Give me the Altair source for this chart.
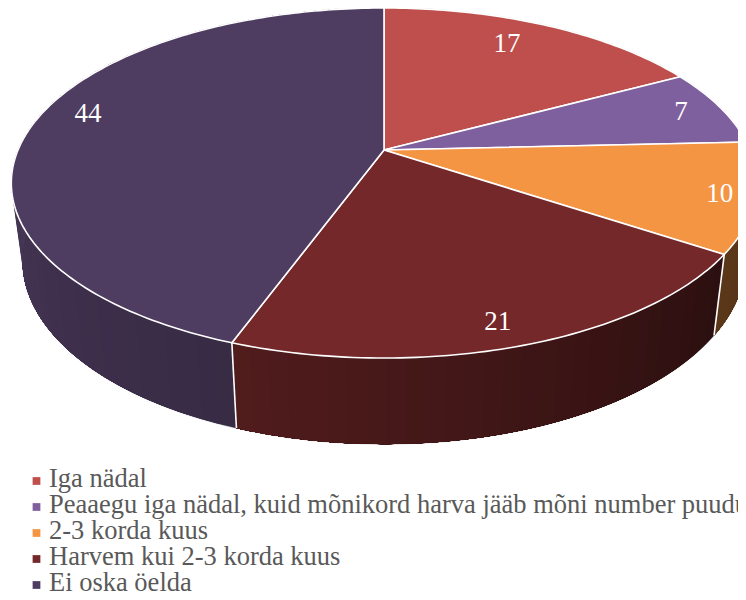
import math
import altair as alt

# ---- data ----
categories = ["Iga nädal",
              "Peaaegu iga nädal, kuid mõnikord harva jääb mõni number puudu",
              "2-3 korda kuus",
              "Harvem kui 2-3 korda kuus",
              "Ei oska öelda"]
values = [17, 7, 10, 21, 44]
colors = ["#BE4F4C", "#7F609E", "#F49544", "#742829", "#4F3D61"]
label_radius = [0.807, 0.879, 0.909, 0.893, 0.871]
label_turn = [-2.7, 0.0, 0.3, 1.2, 4.7]
shade_angles = [90, 123, 200, 270, 360]
shade_factors = [0.34, 0.37, 0.70, 0.90, 0.90]
legend_baselines = [487, 513, 539, 565, 591]

# ---- 3-D projection of the pie (screen pixels) ----
CX, TOP_Y, TOP_A, TOP_B = 384.0, 150.0, 366.0, 168.8
BASE_Y, BASE_A, BASE_B = 226.0, 355.0, 177.0
K = 0.1886
OFFSET = 8


def project(theta_deg, r=1.0, base=False):
    t = math.radians(theta_deg)
    X, Y = r * math.sin(t), r * math.cos(t)
    w = 1 + K * Y
    a, b, y0 = (BASE_A, BASE_B, BASE_Y) if base else (TOP_A, TOP_B, TOP_Y)
    return [CX + a * X / w, y0 - b * Y / w]


def shade(hex_color, f):
    rgb = [int(hex_color[i:i + 2], 16) for i in (1, 3, 5)]
    return "#" + "".join(f"{min(255, round(c * f)):02x}" for c in rgb)


def shade_factor(theta):
    for i in range(len(shade_angles) - 1):
        a0, a1 = shade_angles[i], shade_angles[i + 1]
        if a0 <= theta <= a1:
            return shade_factors[i] + (theta - a0) / (a1 - a0) * (shade_factors[i + 1] - shade_factors[i])
    return shade_factors[0] if theta < shade_angles[0] else shade_factors[-1]


def arange(a, b, step=1.0):
    n = max(2, int(abs(b - a) / step) + 1)
    return [a + (b - a) * i / (n - 1) for i in range(n)]


total = sum(values)
edges = [0.0]
for v in values:
    edges.append(edges[-1] + v / total * 360)


def feature(geom_type, coords, **props):
    return {"type": "Feature", "properties": props,
            "geometry": {"type": geom_type, "coordinates": coords}}


walls, tops, labels = [], [], []
for i, cat in enumerate(categories):
    a0, a1 = edges[i], edges[i + 1]
    # wall: painter's order, every band reaches to the end of its slice
    ang = arange(a0, a1, 2.5)
    for s, e in zip(ang[:-1], ang[1:]):
        if e < 85:
            continue
        mid = (s + e) / 2
        run = arange(s, a1, 1.0)
        poly = [project(a) for a in run] + [project(a, base=True) for a in reversed(run)]
        poly.append(poly[0])
        walls.append(feature("Polygon", [poly], fill=shade(colors[i], shade_factor(mid)), order=len(walls)))
    # top face
    ring = [[CX, TOP_Y]] + [project(a) for a in arange(a0, a1, 1.0)] + [[CX, TOP_Y]]
    tops.append(feature("Polygon", [ring], fill=colors[i]))
    # label
    pos = project((a0 + a1) / 2 + label_turn[i], label_radius[i])
    labels.append({"lx": pos[0], "ly": pos[1], "text": str(values[i])})

legend_rows = [{"name": c, "fill": col, "tx": 49, "mx": 36.5, "base": b, "my": b - 6}
               for c, col, b in zip(categories, colors, legend_baselines)]

separators = [feature("LineString", [project(edges[j]), project(edges[j], base=True)])
              for j in (3, 4)]
outline = [
    feature("LineString", [project(a) for a in arange(-72, 100, 1.0)]),
    feature("LineString", [project(a, base=True) for a in arange(105, 287, 1.0)]),
    feature("LineString", [project(287), project(287, base=True)]),
]

proj = alt.Projection(type="identity", scale=1, translate=[-OFFSET, -OFFSET])

wall_layer = alt.Chart(alt.Data(values=walls)).mark_geoshape(strokeWidth=0).encode(
    color=alt.Color("properties.fill:N", scale=None),
).properties(projection=proj)

outline_layer = alt.Chart(alt.Data(values=outline)).mark_geoshape(
    filled=False, stroke="#d0d0d0", strokeWidth=1.2
).properties(projection=proj)

top_layer = alt.Chart(alt.Data(values=tops)).mark_geoshape(
    stroke="white", strokeWidth=1.6, strokeJoin="round"
).encode(
    color=alt.Color("properties.fill:N", scale=None),
).properties(projection=proj)

sep_layer = alt.Chart(alt.Data(values=separators)).mark_geoshape(
    filled=False, stroke="white", strokeWidth=1.6
).properties(projection=proj)

sx = alt.Scale(domain=[OFFSET, 738], range=[0, 730], nice=False, zero=False)
sy = alt.Scale(domain=[OFFSET, 592], range=[0, 584], nice=False, zero=False)
text_layer = alt.Chart(alt.Data(values=labels)).mark_text(
    font="Liberation Serif", fontSize=27, color="white", baseline="middle", align="center"
).encode(
    x=alt.X("lx:Q", scale=sx, axis=None),
    y=alt.Y("ly:Q", scale=sy, axis=None),
    text="text:N",
)

legend_marks = alt.Chart(alt.Data(values=legend_rows)).mark_square(size=60, opacity=1).encode(
    x=alt.X("mx:Q", scale=sx, axis=None),
    y=alt.Y("my:Q", scale=sy, axis=None),
    color=alt.Color("fill:N", scale=None),
)
legend_text = alt.Chart(alt.Data(values=legend_rows)).mark_text(
    font="Liberation Serif", fontSize=26.5, color="#595959", align="left", baseline="alphabetic"
).encode(
    x=alt.X("tx:Q", scale=sx, axis=None),
    y=alt.Y("base:Q", scale=sy, axis=None),
    text="name:N",
)

chart = alt.layer(outline_layer, wall_layer, top_layer, sep_layer, text_layer,
                  legend_marks, legend_text).resolve_scale(
    color="independent"
).properties(
    width=730, height=584, padding=0, background="white",
    autosize=alt.AutoSizeParams(type="none"),
).configure_view(stroke=None)

chart.save("out.html", embed_options={"renderer": "svg", "actions": False})
